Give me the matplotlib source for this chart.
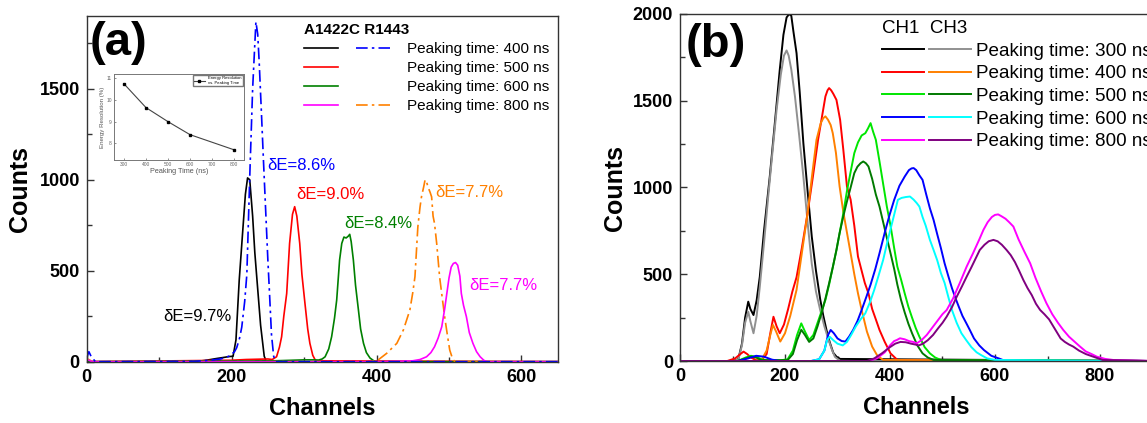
import matplotlib
matplotlib.use("Agg")
import matplotlib.pyplot as plt
from matplotlib.lines import Line2D
from matplotlib.legend_handler import HandlerTuple
from matplotlib.ticker import MultipleLocator

plt.rcParams['font.family'] = ['Liberation Sans', 'DejaVu Sans']

# ---------------- Panel (a) data ----------------
a_black_ch = [0, 150, 165, 180, 190, 196, 202, 206, 210.5, 215, 219, 222, 225, 229, 232, 235, 240, 245, 248, 650]
a_black_ct = [0, 0, 8, 18, 24, 28, 30, 120, 449, 700, 920, 1010, 1000, 800, 600, 449, 200, 30, 0, 0]

a_blue_ch = [0, 3, 6, 12, 150, 170, 185, 197, 204, 207, 211, 214, 218, 221, 225, 229, 233.5, 236, 238, 241, 244, 247, 250, 252, 255, 258, 261, 650]
a_blue_ct = [20, 55, 30, 0, 2, 8, 15, 31, 55, 77, 130, 190, 330, 480, 1015, 1500, 1868, 1800, 1650, 1380, 1100, 830, 560, 400, 150, 30, 0, 0]

a_red_ch = [0, 200, 220, 240, 250, 256, 262, 266, 269, 272, 276, 280, 284, 287, 290, 294, 297, 301, 305, 308, 312, 316, 650]
a_red_ct = [0, 8, 12, 14, 15, 12, 27, 80, 137, 250, 375, 650, 810, 852, 800, 650, 480, 328, 180, 101, 35, 5, 0]

a_green_ch = [0, 260, 300, 315, 320, 325, 329, 334, 338, 342, 345, 349, 352, 355, 358, 361, 363, 365, 368, 371, 375, 378, 382, 386, 391, 398, 650]
a_green_ct = [0, 5, 10, 10, 9, 15, 27, 70, 137, 240, 339, 559, 650, 685, 680, 690, 700, 660, 559, 420, 284, 180, 101, 50, 20, 0, 0]

a_orange_ch = [0, 3, 8, 380, 400, 414, 428, 437, 446, 450, 453, 457, 460, 462, 465, 467, 469, 471, 474, 476, 478, 480, 483, 487, 491, 494, 498, 501, 505, 508, 650]
a_orange_ct = [15, 12, 0, 0, 3, 46, 101, 174, 284, 380, 467, 741, 850, 906, 960, 1000, 989, 960, 930, 906, 800, 760, 650, 467, 340, 247, 140, 64, 15, 0, 0]

a_mag_ch = [0, 3, 8, 400, 430, 450, 460, 469, 475, 480, 485, 490, 494, 497, 500, 503, 506, 509, 512, 515, 517, 520, 524, 528, 533, 538, 543, 548, 552, 650]
a_mag_ct = [10, 8, 0, 0, 2, 5, 12, 27, 50, 82, 130, 192, 290, 375, 460, 520, 540, 545, 530, 470, 375, 310, 247, 160, 101, 55, 27, 8, 0, 0]

a_labels = ['Peaking time: 400 ns', 'Peaking time: 500 ns', 'Peaking time: 600 ns', 'Peaking time: 800 ns']
a_title = 'A1422C R1443'

# inset data
inset_pt = [300, 400, 500, 600, 800]
inset_er = [10.75, 9.65, 9.0, 8.4, 7.7]

# ---------------- Panel (b) data ----------------
b_black_ch = [0, 100, 111, 118, 124, 130, 134, 140, 146, 152, 160, 171, 180, 190, 197, 203, 208, 212, 216, 222, 228, 235, 243, 251, 259, 267, 273, 279, 285, 292, 298, 305, 900]
b_black_ct = [0, 0, 10, 100, 250, 342, 300, 265, 350, 486, 750, 1063, 1350, 1678, 1880, 1980, 2000, 1990, 1900, 1774, 1550, 1255, 980, 717, 520, 357, 260, 179, 110, 47, 25, 12, 0]

b_gray_ch = [0, 100, 111, 118, 124, 130, 134, 140, 146, 152, 160, 168, 176, 184, 192, 198, 203, 207, 212, 219, 227, 235, 243, 251, 259, 267, 275, 283, 290, 295, 305, 900]
b_gray_ct = [0, 0, 8, 90, 220, 284, 230, 160, 260, 428, 680, 948, 1200, 1448, 1650, 1760, 1790, 1760, 1680, 1524, 1300, 1063, 800, 560, 400, 294, 200, 121, 60, 24, 0, 0]

b_red_ch = [0, 90, 105, 115, 121, 128, 135, 145, 155, 165, 172, 178, 184, 190, 198, 206, 214, 222, 232, 243, 253, 263, 270, 277, 281, 284, 288, 292, 298, 305, 311, 318, 325, 332, 339, 346, 352, 359, 366, 373, 380, 390, 401, 414, 900]
b_red_ct = [0, 0, 15, 40, 54, 40, 20, 5, 3, 40, 160, 255, 200, 160, 210, 300, 400, 483, 650, 852, 1060, 1275, 1400, 1525, 1560, 1573, 1560, 1540, 1505, 1390, 1220, 1006, 930, 780, 602, 520, 450, 390, 300, 240, 179, 110, 44, 6, 0]

b_orange_ch = [0, 140, 155, 165, 172, 177, 183, 191, 200, 210, 222, 232, 243, 252, 260, 268, 273, 277, 282, 287, 291, 297, 304, 311, 318, 325, 332, 339, 346, 356, 366, 376, 387, 900]
b_orange_ct = [0, 0, 5, 60, 150, 208, 170, 112, 160, 260, 410, 620, 852, 1080, 1275, 1370, 1400, 1410, 1390, 1360, 1313, 1200, 1006, 860, 740, 621, 500, 390, 294, 170, 83, 30, 6, 0]

b_lime_ch = [0, 110, 125, 135, 145, 155, 165, 190, 205, 215, 223, 231, 238, 246, 254, 262, 270, 277, 284, 291, 298, 304, 311, 318, 325, 332, 339, 346, 353, 358, 363, 368, 373, 380, 387, 394, 401, 408, 414, 421, 428, 435, 442, 449, 456, 466, 476, 486, 497, 900]
b_lime_ct = [0, 0, 20, 30, 25, 10, 3, 3, 10, 60, 150, 217, 170, 121, 150, 220, 290, 352, 440, 540, 640, 737, 850, 980, 1090, 1198, 1260, 1300, 1313, 1340, 1371, 1320, 1275, 1150, 1020, 890, 780, 650, 544, 470, 390, 313, 250, 190, 140, 80, 44, 20, 6, 0]

b_dkgreen_ch = [0, 110, 125, 135, 145, 155, 205, 215, 223, 231, 238, 246, 254, 262, 270, 277, 284, 291, 298, 304, 311, 318, 325, 332, 338, 344, 349, 354, 359, 366, 373, 380, 387, 394, 401, 408, 414, 421, 428, 435, 442, 452, 462, 472, 483, 900]
b_dkgreen_ct = [0, 0, 15, 25, 20, 5, 5, 40, 120, 180, 150, 110, 130, 200, 280, 360, 448, 540, 640, 737, 833, 920, 1000, 1083, 1120, 1140, 1150, 1140, 1121, 1050, 960, 890, 800, 710, 621, 530, 440, 352, 280, 215, 160, 90, 44, 20, 6, 0]

b_blue_ch = [0, 110, 130, 145, 160, 175, 190, 250, 265, 275, 282, 287, 293, 300, 308, 315, 322, 330, 338, 346, 355, 363, 372, 380, 390, 399, 408, 418, 428, 436, 441, 445, 450, 456, 462, 469, 476, 483, 490, 497, 504, 511, 518, 525, 531, 538, 545, 552, 560, 570, 579, 593, 607, 620, 900]
b_blue_ct = [0, 0, 15, 30, 25, 8, 0, 0, 10, 60, 150, 179, 160, 130, 115, 112, 140, 180, 230, 294, 370, 440, 530, 621, 740, 840, 929, 1010, 1063, 1100, 1110, 1112, 1100, 1070, 1044, 960, 880, 813, 730, 650, 563, 490, 420, 360, 313, 260, 220, 179, 130, 90, 63, 30, 15, 0, 0]

b_cyan_ch = [0, 250, 265, 275, 280, 285, 292, 300, 310, 318, 326, 335, 344, 353, 362, 370, 378, 387, 396, 406, 415, 422, 430, 438, 445, 451, 456, 462, 468, 476, 483, 490, 497, 504, 511, 518, 527, 536, 545, 555, 565, 573, 585, 600, 900]
b_cyan_ct = [0, 0, 10, 60, 120, 140, 120, 100, 90, 110, 150, 200, 240, 275, 340, 410, 490, 583, 700, 820, 929, 940, 945, 948, 930, 910, 890, 830, 780, 698, 640, 580, 506, 450, 370, 294, 220, 160, 121, 80, 50, 35, 15, 6, 0]

b_mag_ch = [0, 360, 375, 390, 400, 408, 413, 419, 428, 436, 444, 451, 460, 470, 480, 490, 500, 508, 520, 533, 546, 558, 570, 578, 586, 594, 600, 606, 612, 620, 627, 635, 645, 656, 667, 677, 688, 698, 709, 720, 730, 741, 752, 762, 773, 784, 794, 810, 825, 900]
b_mag_ct = [0, 0, 15, 50, 90, 115, 121, 131, 125, 115, 110, 102, 120, 150, 190, 230, 270, 294, 360, 450, 544, 620, 700, 756, 800, 830, 842, 845, 835, 820, 800, 775, 700, 630, 563, 480, 400, 333, 270, 220, 179, 140, 110, 83, 55, 40, 25, 12, 6, 0]

b_purple_ch = [0, 356, 370, 385, 400, 410, 420, 430, 440, 448, 455, 463, 472, 482, 492, 500, 508, 518, 527, 537, 546, 555, 563, 571, 580, 588, 597, 605, 613, 622, 630, 638, 646, 654, 662, 670, 678, 686, 694, 703, 710, 717, 725, 733, 741, 749, 760, 773, 787, 805, 900]
b_purple_ct = [0, 0, 15, 45, 80, 100, 110, 108, 100, 95, 90, 100, 120, 150, 190, 220, 256, 310, 370, 430, 486, 540, 590, 640, 670, 690, 698, 690, 670, 640, 610, 570, 520, 467, 420, 380, 330, 294, 270, 240, 205, 170, 130, 110, 95, 83, 60, 40, 25, 6, 0]

b_labels = ['Peaking time: 300 ns', 'Peaking time: 400 ns', 'Peaking time: 500 ns',
            'Peaking time: 600 ns', 'Peaking time: 800 ns']
b_title = 'CH1  CH3'

# ---------------- Figure ----------------
W, H = 1147, 423
fig = plt.figure(figsize=(W / 100, H / 100), dpi=100)

def style_axes(ax, xmaj, xmin, ymaj, ymin):
    ax.xaxis.set_major_locator(MultipleLocator(xmaj))
    ax.xaxis.set_minor_locator(MultipleLocator(xmin))
    ax.yaxis.set_major_locator(MultipleLocator(ymaj))
    ax.yaxis.set_minor_locator(MultipleLocator(ymin))
    ax.tick_params(which='both', direction='in', top=False, right=False, colors='#333333',
                   labelcolor='black')
    ax.tick_params(which='major', length=5, width=1, labelsize=13, pad=5)
    ax.tick_params(which='minor', length=3.5, width=1)
    for lab in ax.get_xticklabels() + ax.get_yticklabels():
        lab.set_fontweight('bold')
    for sp in ax.spines.values():
        sp.set_color('#333333')
        sp.set_linewidth(1.0)

# ---- Panel (a)
axa = fig.add_axes([86.7 / W, 1 - 361.7 / H, (557.7 - 86.7) / W, (361.7 - 16) / H])
lw = 1.2
dd = (0, (7, 2.5, 1.5, 2.5))
la_black, = axa.plot(a_black_ch, a_black_ct, color='black', lw=lw)
la_red, = axa.plot(a_red_ch, a_red_ct, color='#FF0000', lw=lw)
la_green, = axa.plot(a_green_ch, a_green_ct, color='#008000', lw=lw)
la_orange, = axa.plot(a_orange_ch, a_orange_ct, color='#FF8000', lw=lw, linestyle=dd)
la_mag, = axa.plot(a_mag_ch, a_mag_ct, color='#FF00FF', lw=lw)
la_blue, = axa.plot(a_blue_ch, a_blue_ct, color='#0000FF', lw=lw, linestyle=dd)
axa.set_xlim(0, 650)
axa.set_ylim(0, 1900)
style_axes(axa, 200, 100, 500, 250)
axa.set_xlabel('Channels', fontsize=17, fontweight='bold', labelpad=8)
axa.set_ylabel('Counts', fontsize=18, fontweight='bold', labelpad=5)
axa.text(0.006, 0.922, '(a)', transform=axa.transAxes, fontsize=34, fontweight='bold',
         ha='left', va='center')

empty = Line2D([], [], color='none')
leg_a = axa.legend([(la_black, la_blue), (la_red, empty), (la_green, empty), (la_mag, la_orange)],
                   a_labels, handler_map={tuple: HandlerTuple(ndivide=None, pad=1.22)},
                   loc='upper left', bbox_to_anchor=(0.461, 0.979), frameon=False, fontsize=11,
                   handlelength=5.67, handletextpad=1.08, labelspacing=0.33, borderpad=0,
                   borderaxespad=0, title=a_title, alignment='left',
                   title_fontproperties={'weight': 'bold', 'size': 11})

# delta E annotations (a)
ann_kw = dict(fontsize=12, va='center', ha='left')
axa.text(105, 251, 'δE=9.7%', color='black', **ann_kw)
axa.text(249, 1076, 'δE=8.6%', color='#0000FF', **ann_kw)
axa.text(289, 918, 'δE=9.0%', color='#FF0000', **ann_kw)
axa.text(356, 762, 'δE=8.4%', color='#008000', **ann_kw)
axa.text(481, 932, 'δE=7.7%', color='#FF8000', **ann_kw)
axa.text(528, 418, 'δE=7.7%', color='#FF00FF', **ann_kw)

# inset
axi = fig.add_axes([114 / W, 1 - 160 / H, (244 - 114) / W, (160 - 74) / H])
axi.plot(inset_pt, inset_er, color='#444444', lw=0.8, marker='s', markersize=2,
         markerfacecolor='black', markeredgecolor='black', label='Energy Resolution\nvs. Peaking Time')
axi.set_xlim(255, 845)
axi.set_ylim(7.23, 11.2)
axi.set_xticks([300, 400, 500, 600, 700, 800])
axi.set_yticks([8, 9, 10, 11])
axi.tick_params(direction='in', length=1.5, width=0.5, labelsize=3.5, pad=1.5, colors='#666666')
for sp in axi.spines.values():
    sp.set_color('#777777')
    sp.set_linewidth(0.7)
axi.set_xlabel('Peaking Time (ns)', fontsize=5.2, color='#555555', labelpad=0.5)
axi.set_ylabel('Energy Resolution (%)', fontsize=4.4, color='#555555', labelpad=1)
axi.legend(loc='upper right', fontsize=3, frameon=True, fancybox=False, edgecolor='#777777',
           handlelength=2.5, borderpad=0.3, borderaxespad=0.3, framealpha=1)

# ---- Panel (b)
axb = fig.add_axes([680 / W, 1 - 361 / H, 472.5 / W, (361 - 14) / H])
lwb = 1.4
lb_black, = axb.plot(b_black_ch, b_black_ct, color='black', lw=lwb)
lb_gray, = axb.plot(b_gray_ch, b_gray_ct, color='#909090', lw=lwb)
lb_red, = axb.plot(b_red_ch, b_red_ct, color='#FF0000', lw=lwb)
lb_orange, = axb.plot(b_orange_ch, b_orange_ct, color='#FF8000', lw=lwb)
lb_lime, = axb.plot(b_lime_ch, b_lime_ct, color='#00E600', lw=lwb)
lb_dkgreen, = axb.plot(b_dkgreen_ch, b_dkgreen_ct, color='#007A00', lw=lwb)
lb_blue, = axb.plot(b_blue_ch, b_blue_ct, color='#0000FF', lw=lwb)
lb_cyan, = axb.plot(b_cyan_ch, b_cyan_ct, color='#00FFFF', lw=lwb)
lb_mag, = axb.plot(b_mag_ch, b_mag_ct, color='#FF00FF', lw=lwb)
lb_purple, = axb.plot(b_purple_ch, b_purple_ct, color='#800080', lw=lwb)
axb.set_xlim(0, 900)
axb.set_ylim(0, 2000)
style_axes(axb, 200, 100, 500, 250)
axb.set_xlabel('Channels', fontsize=17, fontweight='bold', labelpad=8)
axb.set_ylabel('Counts', fontsize=18, fontweight='bold', labelpad=4)
axb.text(0.012, 0.911, '(b)', transform=axb.transAxes, fontsize=34, fontweight='bold',
         ha='left', va='center')
axb.legend([(lb_black, lb_gray), (lb_red, lb_orange), (lb_lime, lb_dkgreen),
            (lb_blue, lb_cyan), (lb_mag, lb_purple)], b_labels,
           handler_map={tuple: HandlerTuple(ndivide=None, pad=0.27)},
           loc='upper left', bbox_to_anchor=(0.427, 0.983), frameon=False, fontsize=13.6,
           handlelength=4.72, handletextpad=0.27, labelspacing=0.29, borderpad=0,
           borderaxespad=0, title=b_title, alignment='left',
           title_fontproperties={'size': 13.5})

fig.savefig('out.png', dpi=100)
